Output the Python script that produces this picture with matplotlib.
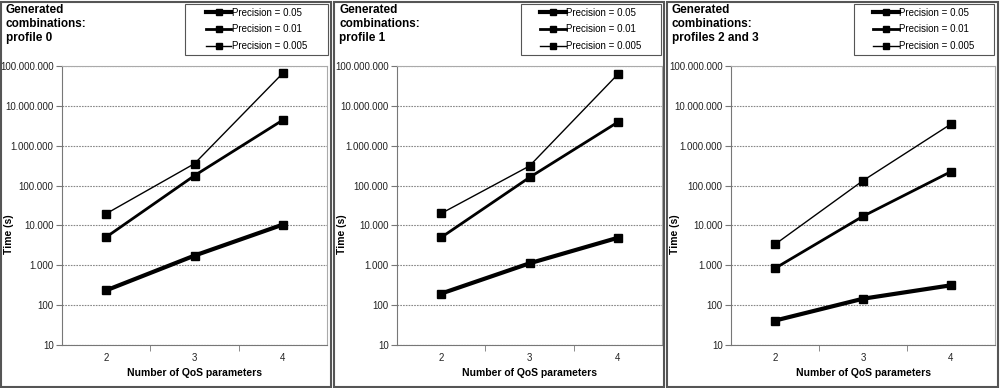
import matplotlib
matplotlib.use("Agg")
import matplotlib.pyplot as plt
from matplotlib.patches import Rectangle
from matplotlib.ticker import FixedLocator, FuncFormatter

plt.rcParams['font.family'] = ['Liberation Sans', 'DejaVu Sans']

# Number of QoS parameters
params = [2, 3, 4]
labels = ["Precision = 0.05", "Precision = 0.01", "Precision = 0.005"]
titles = ["Generated\ncombinations:\nprofile 0",
          "Generated\ncombinations:\nprofile 1",
          "Generated\ncombinations:\nprofiles 2 and 3"]

# Time (s) per panel, per precision
profile0_p05 = [235, 1750, 10500]
profile0_p01 = [5100, 178000, 4400000]
profile0_p005 = [19700, 355000, 66000000]

profile1_p05 = [195, 1120, 4900]
profile1_p01 = [5000, 160000, 3900000]
profile1_p005 = [20000, 310000, 62000000]

profile23_p05 = [41, 145, 315]
profile23_p01 = [840, 17000, 224000]
profile23_p005 = [3350, 133000, 3500000]

panels = [
    [profile0_p05, profile0_p01, profile0_p005],
    [profile1_p05, profile1_p01, profile1_p005],
    [profile23_p05, profile23_p01, profile23_p005],
]
widths = [3.0, 2.0, 1.0]

W, H = 1000, 388
fig = plt.figure(figsize=(W / 100, H / 100), dpi=100)

# panel frames, axes and legend boxes in pixels
frames = [(1, 331), (334, 664), (667, 998)]
axes_x = [(62, 327), (397, 662), (731, 995)]
legend_x = [(185, 328), (521, 661), (854, 994)]
ax_top, ax_bot = 66, 345
leg_top, leg_bot = 4, 55


def thousands(v, pos):
    return f"{int(round(v)):,}".replace(",", ".")


for i, series in enumerate(panels):
    fx0, fx1 = frames[i]
    fig.patches.append(Rectangle((fx0 / W, 1 / H), (fx1 - fx0) / W, (H - 3) / H,
                                 transform=fig.transFigure, fill=False,
                                 edgecolor='#555555', linewidth=1.5))
    x0, x1 = axes_x[i]
    ax = fig.add_axes([x0 / W, (H - ax_bot) / H, (x1 - x0) / W, (ax_bot - ax_top) / H])
    for vals, lw, lab in zip(series, widths, labels):
        ax.plot(params, vals, color='black', linewidth=lw, marker='s',
                markersize=5.2, label=lab)
    ax.set_yscale('log')
    ax.set_ylim(10, 1e8)
    ax.set_xlim(1.5, 4.5)
    ax.yaxis.set_major_locator(FixedLocator([10 ** k for k in range(1, 9)]))
    ax.yaxis.set_minor_locator(FixedLocator([]))
    ax.yaxis.set_major_formatter(FuncFormatter(thousands))
    ax.set_xticks(params)
    ax.set_xticks([2.5, 3.5], minor=True)
    ax.tick_params(axis='x', which='major', length=0, labelsize=7, pad=6, colors='#222222')
    ax.tick_params(axis='x', which='minor', length=4, direction='out', color='#777777')
    ax.tick_params(axis='y', length=4, direction='out', labelsize=7, pad=2,
                   color='#777777', labelcolor='#222222')
    ax.grid(axis='y', color='#888888', linestyle=(0, (1.5, 1)), linewidth=0.8)
    for s in ['top', 'right']:
        ax.spines[s].set_color('#aaaaaa')
    for s in ['left', 'bottom']:
        ax.spines[s].set_color('#777777')
    ax.set_xlabel("Number of QoS parameters", fontsize=7.5, fontweight='bold')
    ax.set_ylabel("Time (s)", fontsize=7.5, fontweight='bold')
    w_ax = x1 - x0
    h_ax = ax_bot - ax_top
    ax.xaxis.set_label_coords(0.5, -(368 - ax_bot) / h_ax)
    ax.yaxis.set_label_coords(-(x0 - fx0 - 13) / w_ax, (ax_bot - 234) / h_ax)
    fig.text((fx0 + 5) / W, 1 - 4 / H, titles[i], fontsize=8.5, fontweight='bold',
             va='top', ha='left', linespacing=1.22)

    # legend frame drawn separately, entries centred inside it
    lx0, lx1 = legend_x[i]
    fig.patches.append(Rectangle((lx0 / W, 1 - leg_bot / H), (lx1 - lx0) / W,
                                 (leg_bot - leg_top) / H, transform=fig.transFigure,
                                 fill=False, edgecolor='#555555', linewidth=0.8))
    ax.legend(loc='center', bbox_to_anchor=((lx0 + lx1) / 2 / W,
                                            1 - (leg_top + leg_bot) / 2 / H),
              bbox_transform=fig.transFigure, fontsize=7, frameon=False,
              handlelength=2.6, handletextpad=0.05, labelspacing=0.7,
              borderpad=0.2, markerscale=0.9)

fig.savefig("out.png", dpi=100)
